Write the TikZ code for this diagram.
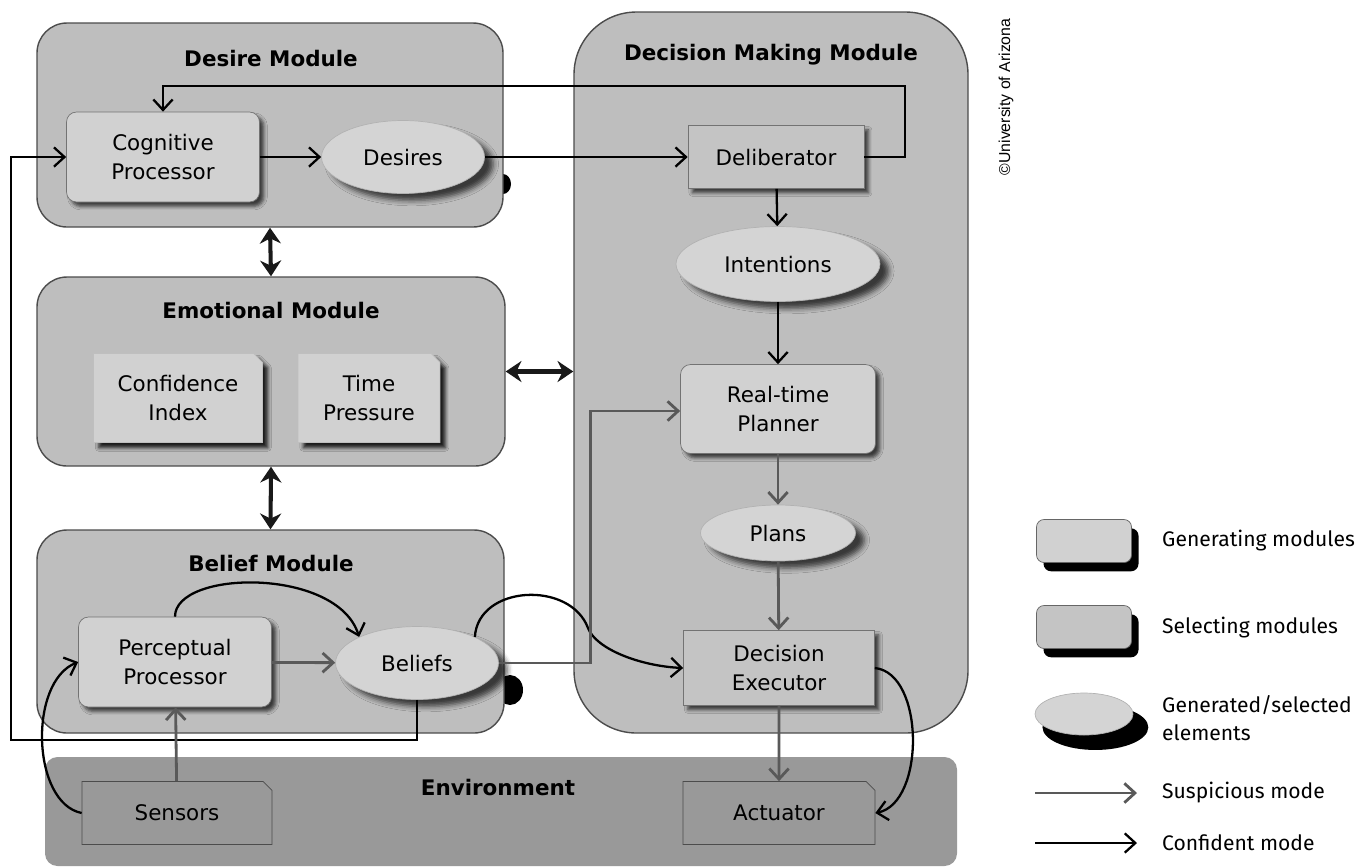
\documentclass[tikz,border=0pt]{standalone}
\usepackage{fontspec}
\setmainfont{DejaVu Sans}
\newfontfamily\legfont{Fira Sans}
\newfontfamily\copyfont{Liberation Sans}
\usepackage{tikz}
\usetikzlibrary{calc}
\usetikzlibrary{arrows.meta}
\usetikzlibrary{shapes.geometric,shapes.misc,fit,shadows,shadows.blur}
\usepackage{color}

\definecolor{modfill}{gray}{0.745}
\definecolor{genfill}{gray}{0.82}
\definecolor{selfill}{gray}{0.77}
\definecolor{elemfill}{gray}{0.83}
\definecolor{envfill}{gray}{0.6}
\definecolor{suspgray}{gray}{0.35}

\begin{document}
\begin{tikzpicture}[x=0.02cm,y=-0.02cm,
  font=\fontsize{12.2}{17}\selectfont,
  module/.style={draw=black!70,fill=modfill,line width=0.8pt,rounded corners=0.6cm,inner sep=0pt},
  modtitle/.style={font=\fontsize{12.2}{15}\selectfont\bfseries},
  gen/.style={draw=black!55,fill=genfill,rounded corners=0.2cm,align=center,inner sep=0pt,
    minimum width=3.86cm,minimum height=1.8cm,
    blur shadow={shadow xshift=2.5pt,shadow yshift=-2.5pt,shadow blur radius=2pt,shadow opacity=70}},
  sel/.style={draw=black!55,fill=selfill,align=center,inner sep=0pt,minimum height=1.5cm,
    blur shadow={shadow xshift=2.5pt,shadow yshift=-2.5pt,shadow blur radius=2pt,shadow opacity=70}},
  emo/.style={chamfered rectangle,chamfered rectangle corners=north east,chamfered rectangle sep=2.5pt,
    draw=black!25,fill=genfill,align=center,inner sep=0pt,minimum height=1.78cm,
    blur shadow={shadow xshift=3pt,shadow yshift=-3pt,shadow blur radius=2pt,shadow opacity=85}},
  elem/.style={ellipse,draw=black!30,fill=elemfill,inner sep=0pt,
    blur shadow={shadow xshift=5pt,shadow yshift=-4pt,shadow blur radius=3pt,shadow opacity=70}},
  dev/.style={chamfered rectangle,chamfered rectangle corners=north east,chamfered rectangle sep=2.5pt,
    draw=black!70,fill=envfill,inner sep=0pt,minimum height=1.26cm},
  conf/.style={draw=black,line width=1.3pt,-{Straight Barb[length=6pt,width=11pt]}},
  susp/.style={draw=suspgray,line width=1.6pt,-{Straight Barb[length=6pt,width=11pt]}},
  dbl/.style={draw=black!90,line width=2.3pt,{Stealth[length=9pt,width=12pt]}-{Stealth[length=9pt,width=12pt]}},
  leglabel/.style={anchor=west,font=\legfont\fontsize{12}{16}\selectfont,align=left}]

\useasboundingbox (0,0) rectangle (1362,867);

% shadow bits peeking out behind the modules
\fill[black] (503,184) ellipse (8 and 10);
\fill[black] (510,690) ellipse (13 and 15);

% modules
\node[module,fit={(37,23) (503,227)}] (desire) {};
\node[module,fit={(37,277) (505,466)}] (emotion) {};
\node[module,fit={(37,530) (504,733)}] (belief) {};
\node[module,rounded corners=1.25cm,fit={(574,12) (968,733)}] (decision) {};
\node[draw=none,fill=envfill,rounded corners=0.25cm,inner sep=0pt,fit={(45,757) (957,866)}] (env) {};

\node[modtitle] (desiretitle) at (271,58) {Desire Module};
\node[modtitle] (emotiontitle) at (271,310) {Emotional Module};
\node[modtitle] (belieftitle) at (271,563) {Belief Module};
\node[modtitle] (decisiontitle) at (771,55) {Decision Making Module};
\node[modtitle] (envtitle) at (498,787) {Environment};

% elements
\node[gen] (cog) at (163,157) {Cognitive\\Processor};
\node[elem,minimum width=3.26cm,minimum height=1.46cm] (des) at (403,157) {Desires};
\node[emo,minimum width=3.38cm] (conf) at (178,398) {Confidence\\Index};
\node[emo,minimum width=2.84cm] (time) at (369,398) {Time\\Pressure};
\node[gen] (perc) at (175,662) {Perceptual\\Processor};
\node[elem,minimum width=3.26cm,minimum height=1.46cm] (bel) at (417,663) {Beliefs};

\node[sel,minimum width=3.52cm,minimum height=1.26cm] (delib) at (776,157) {Deliberator};
\node[elem,minimum width=4.08cm,minimum height=1.5cm] (int) at (778,264) {Intentions};
\node[gen,minimum width=3.9cm,minimum height=1.78cm] (plan) at (778,409) {Real-time\\Planner};
\node[elem,minimum width=3.1cm,minimum height=1.12cm] (plans) at (778,533) {Plans};
\node[sel,minimum width=3.82cm] (exec) at (779,668) {Decision\\Executor};

\node[dev,minimum width=3.8cm] (sens) at (177,813) {Sensors};
\node[dev,minimum width=3.84cm] (act) at (779,813) {Actuator};

% module links
\draw[dbl] (desire.south) -- (emotion.north);
\draw[dbl] (emotion.south) -- (belief.north);
\draw[dbl] (emotion.east) -- (emotion.east -| decision.west);

% confident mode
\draw[conf] (cog) -- (des);
\draw[conf] (des) -- (delib);
\draw[conf] (delib.east) -| (905,86) -| (cog.north);
\draw[conf] (delib) -- (int);
\draw[conf] (int) -- (plan);
\draw[conf] (bel.south) |- (11,740) |- (cog.west);
\draw[conf] (perc.north) .. controls +(0,-47) and +(-22,-70) .. (bel.north west);
\draw[conf] (sens.west) .. controls +(-50,-10) and +(-50,20) .. (perc.west);
\draw[conf] (bel.north east) .. controls (478,585) and (570,580) .. (588,628) .. controls (596,649) and (640,666) .. (exec.west);
\draw[conf] (exec.east) .. controls +(50,5) and +(50,-10) .. (act.east);

% suspicious mode
\draw[susp] (perc) -- (bel);
\draw[susp] (sens) -- (perc);
\draw[susp] (bel.east) -| ($(plan.west)+(-90,2)$) -- ($(plan.west)+(0,2)$);
\draw[susp] (plan) -- (plans);
\draw[susp] (plans) -- (exec);
\draw[susp] (exec) -- (act);

% legend
\node[draw=black!60,fill=genfill,rounded corners=0.15cm,minimum width=1.9cm,minimum height=0.86cm,
  drop shadow={shadow xshift=4pt,shadow yshift=-5pt,fill=black,opacity=1}] (lgen) at (1084,541) {};
\node[draw=black!60,fill=selfill,rounded corners=0.15cm,minimum width=1.9cm,minimum height=0.86cm,
  drop shadow={shadow xshift=4pt,shadow yshift=-5pt,fill=black,opacity=1}] (lsel) at (1084,627) {};
\node[ellipse,draw=black!30,fill=elemfill,minimum width=1.96cm,minimum height=0.84cm,inner sep=0pt,
  drop shadow={shadow xshift=6pt,shadow yshift=-7pt,shadow scale=1.08,fill=black,opacity=1}] (lelem) at (1084,714) {};
\coordinate (lsa) at (1035,793);
\coordinate (lsb) at (1137,793);
\coordinate (lca) at (1035,843);
\coordinate (lcb) at (1137,843);
\draw[susp] (lsa) -- (lsb);
\draw[conf] (lca) -- (lcb);

\node[leglabel] (tgen) at (1156,541) {Generating modules};
\node[leglabel] (tsel) at (1156,628) {Selecting modules};
\node[leglabel] (telem) at (1156,718) {Generated/selected\\elements};
\node[leglabel] (tsusp) at (1156,793) {Suspicious mode};
\node[leglabel] (tconf) at (1156,843) {Confident mode};

\node[rotate=90,font=\copyfont\fontsize{9}{11}\selectfont] (copy) at (1006,97) {\textcopyright University of Arizona};

\end{tikzpicture}
\end{document}
